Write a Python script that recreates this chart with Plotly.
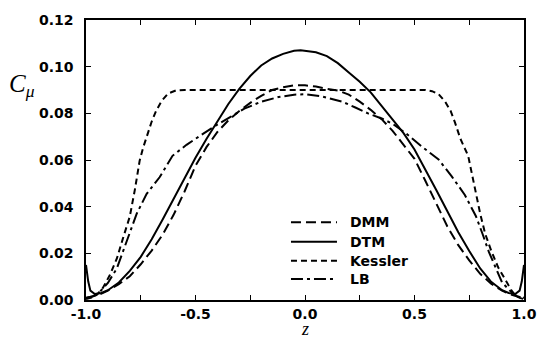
import plotly.graph_objects as go

# Wall-normal coordinate z and C_mu profiles for each model
z_dmm = [-1.00, -0.97, -0.94, -0.90, -0.85, -0.80, -0.75, -0.70, -0.65, -0.60, -0.55, -0.50,
         -0.45, -0.40, -0.35, -0.30, -0.25, -0.20, -0.15, -0.10, -0.05, 0.00, 0.05, 0.10,
         0.15, 0.20, 0.25, 0.30, 0.35, 0.40, 0.45, 0.50, 0.55, 0.60, 0.65, 0.70, 0.75,
         0.80, 0.85, 0.90, 0.94, 0.97, 1.00]
c_dmm = [0.0008, 0.0015, 0.0023, 0.0040, 0.0068, 0.0102, 0.0153, 0.0212, 0.0280, 0.0365, 0.0465, 0.0575,
         0.0655, 0.0720, 0.0770, 0.0810, 0.0845, 0.0875, 0.0900, 0.0912, 0.0920, 0.0920, 0.0915, 0.0905,
         0.0898, 0.0880, 0.0850, 0.0815, 0.0775, 0.0725, 0.0665, 0.0605, 0.0510, 0.0410, 0.0315, 0.0235, 0.0170,
         0.0112, 0.0070, 0.0040, 0.0023, 0.0015, 0.0008]

z_dtm = [-1.00, -0.99, -0.98, -0.96, -0.93, -0.90, -0.85, -0.80, -0.75, -0.70, -0.65, -0.60,
         -0.55, -0.50, -0.45, -0.40, -0.35, -0.30, -0.25, -0.20, -0.15, -0.10, -0.05, -0.02,
         0.05, 0.10, 0.15, 0.20, 0.25, 0.30, 0.35, 0.40, 0.45, 0.50, 0.55, 0.60, 0.65,
         0.70, 0.75, 0.80, 0.85, 0.90, 0.93, 0.96, 0.98, 0.99, 1.00]
c_dtm = [0.0150, 0.0080, 0.0040, 0.0026, 0.0030, 0.0042, 0.0075, 0.0125, 0.0185, 0.0260, 0.0345, 0.0435,
         0.0525, 0.0610, 0.0690, 0.0765, 0.0840, 0.0905, 0.0960, 0.1005, 0.1035, 0.1055, 0.1068, 0.1070,
         0.1062, 0.1045, 0.1015, 0.0975, 0.0935, 0.0890, 0.0830, 0.0770, 0.0715, 0.0645, 0.0560, 0.0470, 0.0380,
         0.0290, 0.0210, 0.0135, 0.0078, 0.0042, 0.0030, 0.0026, 0.0040, 0.0080, 0.0150]

z_kes = [-1.00, -0.975, -0.95, -0.923, -0.891, -0.859, -0.832, -0.80, -0.777, -0.755, -0.74, -0.72,
         -0.70, -0.68, -0.655, -0.625, -0.59, -0.55, 0.55, 0.58, 0.61, 0.64, 0.665, 0.685,
         0.71, 0.745, 0.77, 0.80, 0.823, 0.85, 0.882, 0.914, 0.941, 0.96, 0.98, 1.00]
c_kes = [0.0004, 0.0010, 0.0023, 0.0052, 0.0107, 0.0178, 0.0262, 0.0358, 0.0472, 0.0597, 0.0650, 0.0710,
         0.0765, 0.0810, 0.0853, 0.0885, 0.0898, 0.0900, 0.0900, 0.0895, 0.0882, 0.0850, 0.0810, 0.0760,
         0.0690, 0.0618, 0.0500, 0.0370, 0.0283, 0.0212, 0.0140, 0.0086, 0.0044, 0.0020, 0.0009, 0.0004]

z_lb = [-1.00, -0.97, -0.936, -0.90, -0.859, -0.832, -0.80, -0.768, -0.723, -0.664, -0.605, -0.541,
        -0.482, -0.414, -0.34, -0.277, -0.20, -0.12, -0.05, 0.00, 0.08, 0.17, 0.23, 0.29,
        0.35, 0.40, 0.46, 0.53, 0.61, 0.67, 0.73, 0.78, 0.81, 0.84, 0.87, 0.90, 0.94,
        0.97, 1.00]
c_lb = [0.0010, 0.0015, 0.0036, 0.0073, 0.0136, 0.0203, 0.0287, 0.0371, 0.0455, 0.0526, 0.0618, 0.0665,
        0.0702, 0.0744, 0.0785, 0.0820, 0.0850, 0.0870, 0.0880, 0.0882, 0.0872, 0.0850, 0.0825, 0.0799,
        0.0778, 0.0755, 0.0715, 0.0660, 0.0602, 0.0530, 0.0450, 0.0360, 0.0285, 0.0205, 0.0140, 0.0075, 0.0036,
        0.0015, 0.0010]

series_names = ["DMM", "DTM", "Kessler", "LB"]

x_tickvals = [-1.0, -0.5, 0.0, 0.5, 1.0]
x_ticktext = ["-1.0", "-0.5", "0.0", "0.5", "1.0"]
y_tickvals = [0.00, 0.02, 0.04, 0.06, 0.08, 0.10, 0.12]
y_ticktext = ["0.00", "0.02", "0.04", "0.06", "0.08", "0.10", "0.12"]

dashes = {"DMM": "10px,5px", "DTM": "solid", "Kessler": "6px,4px", "LB": "12px,4px,3px,4px"}
data = {"DMM": (z_dmm, c_dmm), "DTM": (z_dtm, c_dtm),
        "Kessler": (z_kes, c_kes), "LB": (z_lb, c_lb)}

tick_font = dict(family="DejaVu Sans", size=14, color="black", weight="bold")

fig = go.Figure()
for name in series_names:
    zs, cs = data[name]
    fig.add_trace(go.Scatter(x=zs, y=cs, mode="lines", name=name, showlegend=False,
                             line=dict(color="black", width=2, dash=dashes[name])))

# Hand-drawn legend block inside the axes (longer sample lines than the built-in legend)
row_y = [0.2775, 0.2077, 0.1405, 0.075]
for name, yy in zip(series_names, row_y):
    fig.add_shape(type="line", xref="paper", yref="paper", x0=0.468, x1=0.573, y0=yy, y1=yy,
                  line=dict(color="black", width=2, dash=dashes[name]))
    fig.add_annotation(x=0.598, y=yy, xref="paper", yref="paper", text=name, showarrow=False,
                       xanchor="left", yanchor="middle", font=tick_font)

# Axis titles: C_mu set horizontally beside the y axis, z under the x axis
fig.add_annotation(x=-0.145, y=0.765, xref="paper", yref="paper",
                   text="<i>C</i><sub><i>μ</i></sub>", showarrow=False,
                   xanchor="center", yanchor="middle",
                   font=dict(family="Liberation Serif", size=25, color="black"))
fig.add_annotation(x=0.5, y=-0.1415, xref="paper", yref="paper",
                   text="<i>z</i>", showarrow=False,
                   xanchor="center", yanchor="bottom", borderpad=0,
                   font=dict(family="Liberation Serif", size=18, color="black"))

axis_common = dict(showline=True, linecolor="black", linewidth=1.5, mirror="ticks",
                   ticks="inside", ticklen=5, tickwidth=1.2, tickcolor="black",
                   showgrid=False, zeroline=False, tickfont=tick_font)

fig.update_xaxes(range=[-1, 1], tickvals=x_tickvals, ticktext=x_ticktext,
                 minor=dict(dtick=0.25, ticks="inside", ticklen=5, tickwidth=1.2, tickcolor="black",
                            showgrid=False),
                 ticklabelstandoff=0, **axis_common)
fig.update_yaxes(range=[0, 0.12], tickvals=y_tickvals, ticktext=y_ticktext,
                 ticklabelstandoff=8, **axis_common)

fig.update_layout(width=549, height=340, margin=dict(l=86, r=23, t=14, b=40),
                  paper_bgcolor="white", plot_bgcolor="white")

fig.write_html("out.html")
